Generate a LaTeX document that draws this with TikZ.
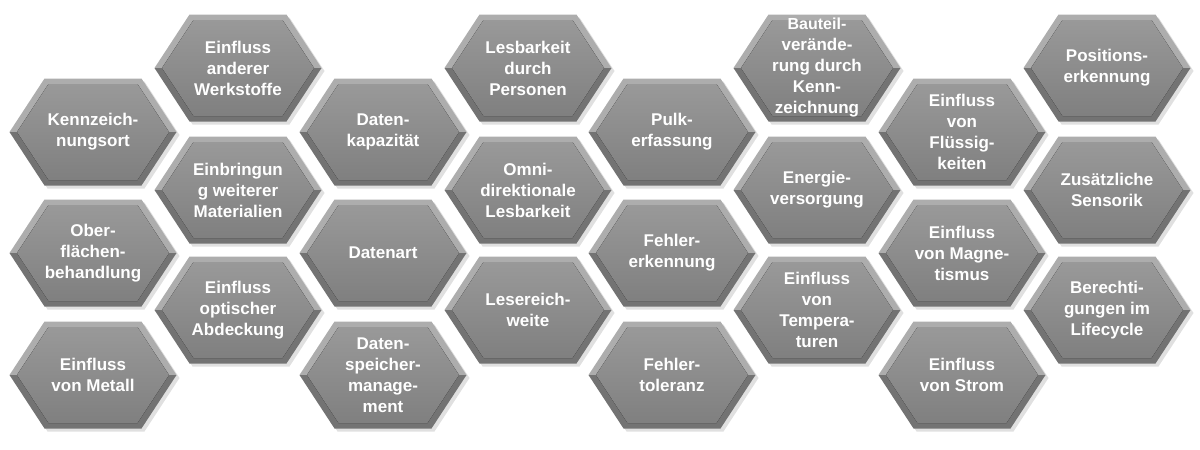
\documentclass[tikz,border=0pt]{standalone}
\usepackage{fontspec}
\setmainfont{Liberation Sans}
\begin{document}
\begin{tikzpicture}[x=1pt,y=-1pt,
  txt/.style={font=\bfseries\fontsize{17}{21}\selectfont,text=white,align=center},
  hexi/.style={top color=black!40,bottom color=black!50,draw=none}]
\useasboundingbox (0,0) rectangle (1200,450);
\newcommand{\hexa}[4]{%
  \fill[black!20,opacity=.6] (#1-83.5+3,#2+3)--(#1-48.5+3,#2-53.5+3)--(#1+48.5+3,#2-53.5+3)--(#1+83.5+3,#2+3)--(#1+48.5+3,#2+53.5+3)--(#1-48.5+3,#2+53.5+3)--cycle;
  \fill[black!32] (#1-83.5,#2)--(#1-48.5,#2-53.5)--(#1+48.5,#2-53.5)--(#1+83.5,#2)--cycle;
  \fill[black!55] (#1-83.5,#2)--(#1+83.5,#2)--(#1+48.5,#2+53.5)--(#1-48.5,#2+53.5)--cycle;
  \fill[hexi] (#1-76,#2)--(#1-44.5,#2-48)--(#1+44.5,#2-48)--(#1+76,#2)--(#1+44.5,#2+48)--(#1-44.5,#2+48)--cycle;
  \node[txt] (#3) at (#1,#2) {#4};}
\hexa{93}{132}{a1}{Kennzeich-\\nungsort}
\hexa{93}{253}{a2}{Ober-\\flächen-\\behandlung}
\hexa{93}{375}{a3}{Einfluss\\von Metall}
\hexa{238}{68}{b1}{Einfluss\\anderer\\Werkstoffe}
\hexa{238}{190}{b2}{Einbringun\\g weiterer\\Materialien}
\hexa{238}{310}{b3}{Einfluss\\optischer\\Abdeckung}
\hexa{383}{132}{c1}{Daten-\\kapazität}
\hexa{383}{253}{c2}{Datenart}
\hexa{383}{375}{c3}{Daten-\\speicher-\\manage-\\ment}
\hexa{528}{68}{d1}{Lesbarkeit\\durch\\Personen}
\hexa{528}{190}{d2}{Omni-\\direktionale\\Lesbarkeit}
\hexa{528}{310}{d3}{Lesereich-\\weite}
\hexa{672}{132}{e1}{Pulk-\\erfassung}
\hexa{672}{253}{e2}{Fehler-\\erkennung}
\hexa{672}{375}{e3}{Fehler-\\toleranz}
\hexa{817}{68}{f1}{\fontsize{16}{19}\selectfont Bauteil-\\verände-\\rung durch\\Kenn-\\zeichnung}
\hexa{817}{190}{f2}{Energie-\\versorgung}
\hexa{817}{310}{f3}{Einfluss\\von\\Tempera-\\turen}
\hexa{962}{132}{g1}{Einfluss\\von\\Flüssig-\\keiten}
\hexa{962}{253}{g2}{Einfluss\\von Magne-\\tismus}
\hexa{962}{375}{g3}{Einfluss\\von Strom}
\hexa{1107}{68}{h1}{Positions-\\erkennung}
\hexa{1107}{190}{h2}{Zusätzliche\\Sensorik}
\hexa{1107}{310}{h3}{Berechti-\\gungen im\\Lifecycle}
\end{tikzpicture}
\end{document}
